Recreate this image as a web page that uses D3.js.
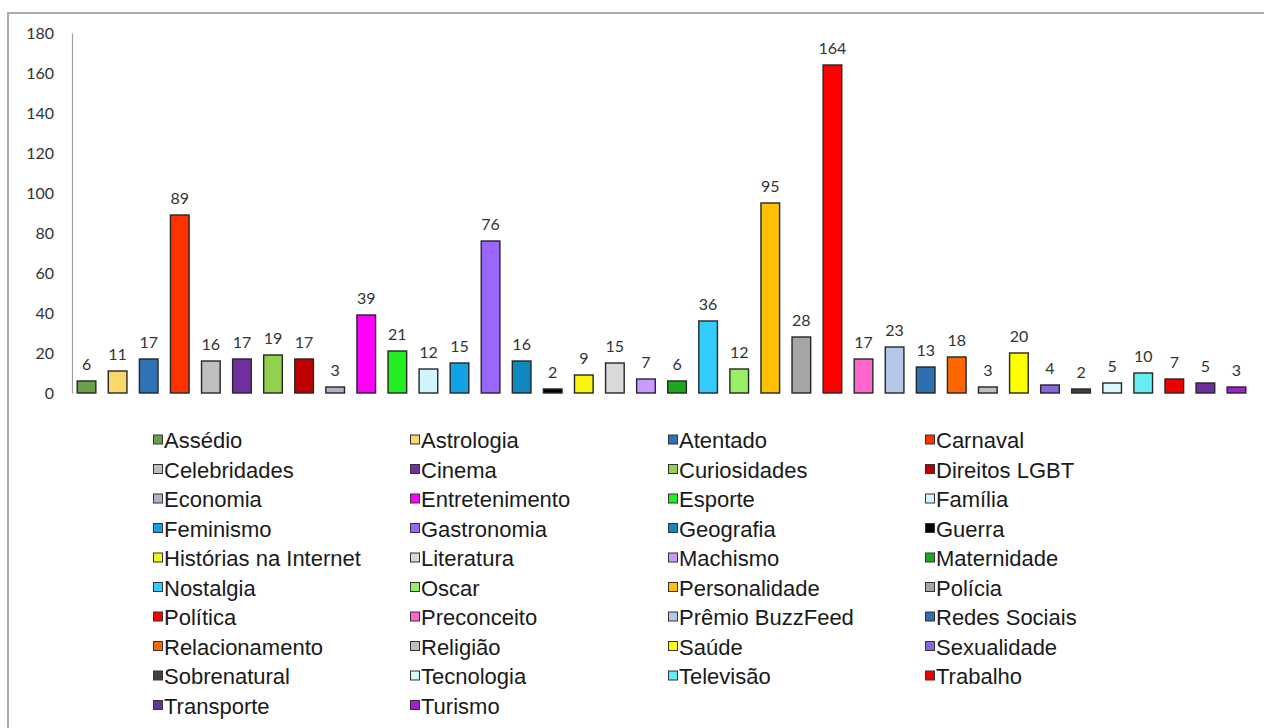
<!DOCTYPE html>
<html><head><meta charset="utf-8">
<script src="https://cdn.jsdelivr.net/npm/d3@7"></script>
<style>
html,body{margin:0;padding:0;background:#fff;}
svg{display:block;}
</style></head>
<body>
<svg id="chart" width="1264" height="728"></svg>
<script>
const categories = ["Assédio","Astrologia","Atentado","Carnaval","Celebridades","Cinema","Curiosidades","Direitos LGBT","Economia","Entretenimento","Esporte","Família","Feminismo","Gastronomia","Geografia","Guerra","Histórias na Internet","Literatura","Machismo","Maternidade","Nostalgia","Oscar","Personalidade","Polícia","Política","Preconceito","Prêmio BuzzFeed","Redes Sociais","Relacionamento","Religião","Saúde","Sexualidade","Sobrenatural","Tecnologia","Televisão","Trabalho","Transporte","Turismo"];
const values = [6,11,17,89,16,17,19,17,3,39,21,12,15,76,16,2,9,15,7,6,36,12,95,28,164,17,23,13,18,3,20,4,2,5,10,7,5,3];
const colors = ["#6aa04c","#fad76a","#2f72b5","#ff3300","#bfbfbf","#7030a0","#92d050","#c00000","#adb3c8","#ff00ff","#22ee22","#d0f4fb","#13a2e4","#9966ff","#0f88c0","#000000","#f8f40e","#d9d9d9","#cc99ff","#1caa1c","#33ccff","#99ee66","#ffc000","#a6a6a6","#ff0000","#ff66cc","#b4c7e7","#2e6fb0","#ff6600","#bfbfbf","#ffff00","#8866dd","#404040","#dbf7fa","#66eef2","#ee0000","#6b3099","#a020d0"];
const yTicks = [0,20,40,60,80,100,120,140,160,180];

const svg = d3.select("#chart");

// frame (top and left edges)
svg.append("line").attr("x1",7).attr("x2",1264).attr("y1",13).attr("y2",13)
  .attr("stroke","#ababab").attr("stroke-width",2);
svg.append("line").attr("x1",8).attr("x2",8).attr("y1",12).attr("y2",728)
  .attr("stroke","#ababab").attr("stroke-width",2);

const x = d3.scaleBand().domain(categories).range([71,1252]).paddingInner(0.4).paddingOuter(0.2);
const y = d3.scaleLinear().domain([0,180]).range([393,33]);

const yAxis = svg.append("g").attr("transform","translate(72,0)")
  .call(d3.axisLeft(y).tickValues(yTicks).tickSize(0).tickPadding(18));
yAxis.select(".domain").attr("stroke","#a0a0a0").attr("stroke-width",1.2);
yAxis.selectAll("text").attr("font-family","Lato, 'Open Sans', sans-serif").attr("font-size",16).attr("fill","#333");

const data = categories.map((c,i)=>({c, v:values[i], col:colors[i]}));

svg.append("g").selectAll("rect").data(data).join("rect")
  .attr("x",d=>x(d.c)).attr("width",x.bandwidth())
  .attr("y",d=>y(d.v)).attr("height",d=>y(0)-y(d.v))
  .attr("fill",d=>d.col).attr("stroke","#262626").attr("stroke-width",1.4);

svg.append("g").selectAll("text").data(data).join("text")
  .attr("x",d=>x(d.c)+x.bandwidth()/2).attr("y",d=>y(d.v)-11)
  .attr("text-anchor","middle")
  .attr("font-family","Lato, 'Open Sans', sans-serif").attr("font-size",16).attr("fill","#333")
  .text(d=>d.v);

// legend
const colX = [153,410,668,925];
const rowY0 = 440, rowStep = 29.5;
const leg = svg.append("g").selectAll("g").data(data).join("g")
  .attr("transform",(d,i)=>`translate(${colX[i%4]},${rowY0 + Math.floor(i/4)*rowStep})`);
leg.append("rect").attr("x",0.5).attr("y",-5).attr("width",9).attr("height",9)
  .attr("fill",d=>d.col).attr("stroke","#333").attr("stroke-width",1);
leg.append("text").attr("x",11).attr("y",8)
  .attr("font-family","'Liberation Sans', Arial, sans-serif").attr("font-size",22)
  .attr("fill","#1a1a1a")
  .text(d=>d.c);
</script>
</body></html>
